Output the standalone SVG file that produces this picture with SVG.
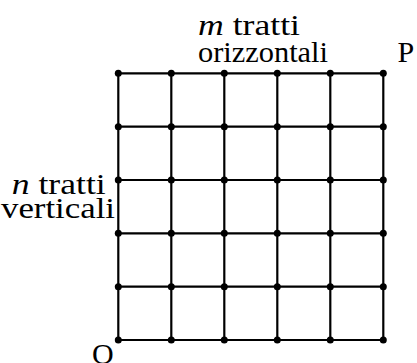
<svg xmlns="http://www.w3.org/2000/svg" width="417" height="363" viewBox="0 0 417 363">
<style>
.ln{stroke:#000;stroke-width:2.2;fill:none;stroke-linecap:round}
.dot{fill:#000}
text{font-family:"Liberation Serif","Times New Roman",serif;font-size:30px;fill:#000}
.it{font-style:italic}
</style>
<defs><circle id="d" r="3.5" class="dot"/></defs>
<rect width="417" height="363" fill="#fff"/>
<g id="connectors">
<line class="ln" x1="118.3" y1="73.3" x2="383.3" y2="73.3"/>
<line class="ln" x1="118.3" y1="126.7" x2="383.3" y2="126.7"/>
<line class="ln" x1="118.3" y1="180" x2="383.3" y2="180"/>
<line class="ln" x1="118.3" y1="233.3" x2="383.3" y2="233.3"/>
<line class="ln" x1="118.3" y1="286.7" x2="383.3" y2="286.7"/>
<line class="ln" x1="118.3" y1="340" x2="383.3" y2="340"/>
<line class="ln" x1="118.3" y1="73.3" x2="118.3" y2="340"/>
<line class="ln" x1="171.3" y1="73.3" x2="171.3" y2="340"/>
<line class="ln" x1="224.3" y1="73.3" x2="224.3" y2="340"/>
<line class="ln" x1="277.3" y1="73.3" x2="277.3" y2="340"/>
<line class="ln" x1="330.3" y1="73.3" x2="330.3" y2="340"/>
<line class="ln" x1="383.3" y1="73.3" x2="383.3" y2="340"/>
</g>
<g id="nodes">
<g id="r0"><use href="#d" x="118.3" y="73.3"/><use href="#d" x="171.3" y="73.3"/><use href="#d" x="224.3" y="73.3"/><use href="#d" x="277.3" y="73.3"/><use href="#d" x="330.3" y="73.3"/><use href="#d" x="383.3" y="73.3"/></g>
<g id="r1"><use href="#d" x="118.3" y="126.7"/><use href="#d" x="171.3" y="126.7"/><use href="#d" x="224.3" y="126.7"/><use href="#d" x="277.3" y="126.7"/><use href="#d" x="330.3" y="126.7"/><use href="#d" x="383.3" y="126.7"/></g>
<g id="r2"><use href="#d" x="118.3" y="180"/><use href="#d" x="171.3" y="180"/><use href="#d" x="224.3" y="180"/><use href="#d" x="277.3" y="180"/><use href="#d" x="330.3" y="180"/><use href="#d" x="383.3" y="180"/></g>
<g id="r3"><use href="#d" x="118.3" y="233.3"/><use href="#d" x="171.3" y="233.3"/><use href="#d" x="224.3" y="233.3"/><use href="#d" x="277.3" y="233.3"/><use href="#d" x="330.3" y="233.3"/><use href="#d" x="383.3" y="233.3"/></g>
<g id="r4"><use href="#d" x="118.3" y="286.7"/><use href="#d" x="171.3" y="286.7"/><use href="#d" x="224.3" y="286.7"/><use href="#d" x="277.3" y="286.7"/><use href="#d" x="330.3" y="286.7"/><use href="#d" x="383.3" y="286.7"/></g>
<g id="r5"><use href="#d" x="118.3" y="340"/><use href="#d" x="171.3" y="340"/><use href="#d" x="224.3" y="340"/><use href="#d" x="277.3" y="340"/><use href="#d" x="330.3" y="340"/><use href="#d" x="383.3" y="340"/></g>
</g>
<g id="label-m">
<text x="198" y="35" textLength="102" lengthAdjust="spacingAndGlyphs"><tspan class="it">m</tspan> tratti</text>
<text x="198" y="61.5" textLength="130" lengthAdjust="spacingAndGlyphs">orizzontali</text>
</g>
<g id="label-P"><text x="397.5" y="61.5">P</text></g>
<g id="label-n">
<text x="11.7" y="194" textLength="94" lengthAdjust="spacingAndGlyphs"><tspan class="it">n</tspan> tratti</text>
<text x="1" y="218" textLength="114" lengthAdjust="spacingAndGlyphs">verticali</text>
</g>
<g id="label-O"><text x="92" y="364">O</text></g>
</svg>
